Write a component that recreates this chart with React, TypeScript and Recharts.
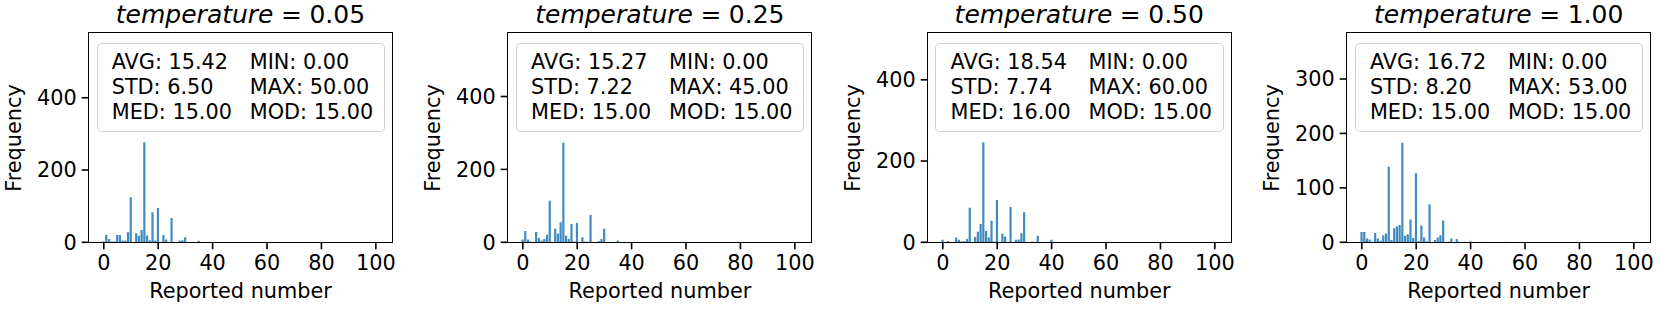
import { BarChart, Bar, XAxis, YAxis } from 'recharts';

// [reported number, frequency]
const counts005: [number, number][] = [
  [0, 2], [1, 20], [2, 9], [3, 2], [4, 2], [5, 20], [6, 20], [7, 5], [8, 5], [9, 28],
  [10, 125], [12, 25], [13, 18], [14, 34], [15, 277], [16, 19], [17, 6], [18, 83], [19, 5],
  [20, 95], [22, 20], [23, 8], [25, 67], [28, 5], [29, 6], [30, 14], [35, 4], [50, 1],
];
const counts025: [number, number][] = [
  [0, 8], [1, 31], [2, 8], [3, 2], [4, 1], [5, 28], [6, 12], [7, 5], [8, 9], [9, 21],
  [10, 114], [12, 37], [13, 24], [14, 55], [15, 273], [16, 18], [17, 9], [18, 50], [19, 2],
  [20, 53], [22, 14], [23, 2], [25, 75], [28, 3], [29, 9], [30, 37], [35, 5], [45, 1],
];
const counts050: [number, number][] = [
  [0, 6], [2, 3], [5, 12], [6, 6], [7, 2], [8, 3], [9, 8], [10, 85], [12, 13], [13, 26],
  [14, 45], [15, 246], [16, 28], [17, 12], [18, 53], [19, 2], [20, 104], [22, 21], [23, 14],
  [25, 87], [27, 6], [28, 7], [29, 22], [30, 74], [33, 2], [35, 16], [40, 6], [45, 1],
  [50, 1], [60, 1],
];
const counts100: [number, number][] = [
  [0, 19], [1, 19], [2, 7], [3, 5], [4, 1], [5, 17], [6, 7], [7, 3], [8, 13], [9, 16],
  [10, 139], [11, 4], [12, 26], [13, 29], [14, 32], [15, 183], [16, 12], [17, 15], [18, 42],
  [19, 8], [20, 127], [21, 2], [22, 31], [23, 9], [24, 2], [25, 70], [27, 4], [28, 9],
  [29, 13], [30, 40], [32, 1], [33, 7], [35, 6], [38, 1], [40, 2], [45, 1], [53, 1],
];

const temperatures = ['0.05', '0.25', '0.50', '1.00'];
const avgs = ['15.42', '15.27', '18.54', '16.72'];
const stds = ['6.50', '7.22', '7.74', '8.20'];
const meds = ['15.00', '15.00', '16.00', '15.00'];
const mins = ['0.00', '0.00', '0.00', '0.00'];
const maxs = ['50.00', '45.00', '60.00', '53.00'];
const mods = ['15.00', '15.00', '15.00', '15.00'];

const xTicks = [0, 20, 40, 60, 80, 100];
const yTicks = [[0, 200, 400], [0, 200, 400], [0, 200, 400], [0, 100, 200, 300]];
const yMax = [580, 575, 516, 385];

const allCounts = [counts005, counts025, counts050, counts100];

const FONT = "'DejaVu Sans', sans-serif";
const FS = 20.8;

// plot area inside each panel
const PL = 88.7;
const PT = 32.7;
const PW = 303.6;
const PH = 209.6;
const PANEL_STEP = 419.4;

function Panel({ i }: { i: number }) {
  const data = allCounts[i].map(([x, y]) => ({ x, y }));
  const rows = [
    [`AVG: ${avgs[i]}`, `MIN: ${mins[i]}`],
    [`STD: ${stds[i]}`, `MAX: ${maxs[i]}`],
    [`MED: ${meds[i]}`, `MOD: ${mods[i]}`],
  ];
  return (
    <div style={{ position: 'absolute', left: i * PANEL_STEP, top: 0, width: 420, height: 311 }}>
      <BarChart
        width={420}
        height={311}
        data={data}
        margin={{ top: PT, right: 420 - PL - PW, bottom: 311 - PT - PH - 40, left: 0 }}
      >
        <XAxis
          dataKey="x"
          type="number"
          domain={[-5.55, 106.05]}
          allowDataOverflow
          ticks={xTicks}
          interval={0}
          height={40}
          axisLine={false}
          tickSize={7}
          tickMargin={6}
          tickLine={{ stroke: '#000', strokeWidth: 1.6 }}
          tick={{ fill: '#000', fontSize: FS, fontFamily: FONT }}
        />
        <YAxis
          type="number"
          domain={[0, yMax[i]]}
          allowDataOverflow
          ticks={yTicks[i]}
          interval={0}
          width={PL}
          axisLine={false}
          tickSize={7}
          tickMargin={5}
          tickLine={{ stroke: '#000', strokeWidth: 1.6 }}
          tick={{ fill: '#000', fontSize: FS, fontFamily: FONT }}
        />
        <Bar dataKey="y" fill="#1f77b4" fillOpacity={0.85} barSize={2.2} isAnimationActive={false} />
      </BarChart>

      {/* axes frame */}
      <div
        style={{
          position: 'absolute',
          left: PL - 0.8,
          top: PT - 0.8,
          width: PW + 1.6,
          height: PH + 1.6,
          border: '1.6px solid #000',
          boxSizing: 'border-box',
          pointerEvents: 'none',
        }}
      />

      {/* stats box */}
      <div
        style={{
          position: 'absolute',
          left: PL + 8,
          top: PT + 10.6,
          width: 288.3,
          height: 89,
          border: '1.6px solid rgba(204,204,204,0.9)',
          borderRadius: 5,
          background: 'rgba(255,255,255,0.8)',
          boxSizing: 'border-box',
          fontFamily: FONT,
          fontSize: FS,
          color: '#000',
        }}
      >
        {rows.map((r, k) => (
          <div key={k}>
            <span style={{ position: 'absolute', left: 14, top: 6 + k * 25, lineHeight: '25px', whiteSpace: 'nowrap' }}>{r[0]}</span>
            <span style={{ position: 'absolute', left: 152, top: 6 + k * 25, lineHeight: '25px', whiteSpace: 'nowrap' }}>{r[1]}</span>
          </div>
        ))}
      </div>

      {/* title */}
      <div
        style={{
          position: 'absolute',
          left: PL - 20,
          width: PW + 40,
          top: 0,
          textAlign: 'center',
          fontFamily: FONT,
          fontSize: 25,
          lineHeight: '30px',
          whiteSpace: 'nowrap',
        }}
      >
        <span style={{ fontStyle: 'italic' }}>temperature</span>
        <span style={{ margin: '0 0.3em' }}>=</span>
        <span>{temperatures[i]}</span>
      </div>

      {/* y label */}
      <div
        style={{
          position: 'absolute',
          left: 14 - 60,
          top: PT + PH / 2 - 13,
          width: 120,
          height: 26,
          lineHeight: '26px',
          textAlign: 'center',
          transform: 'rotate(-90deg)',
          fontFamily: FONT,
          fontSize: FS,
          whiteSpace: 'nowrap',
        }}
      >
        Frequency
      </div>

      {/* x label */}
      <div
        style={{
          position: 'absolute',
          left: PL,
          width: PW,
          top: 278,
          textAlign: 'center',
          fontFamily: FONT,
          fontSize: FS,
          lineHeight: '26px',
          whiteSpace: 'nowrap',
        }}
      >
        Reported number
      </div>
    </div>
  );
}

export default function App() {
  return (
    <div style={{ position: 'absolute', left: 0, top: 0, width: 1660, height: 311, background: '#fff' }}>
      {[0, 1, 2, 3].map((i) => (
        <Panel key={i} i={i} />
      ))}
    </div>
  );
}
